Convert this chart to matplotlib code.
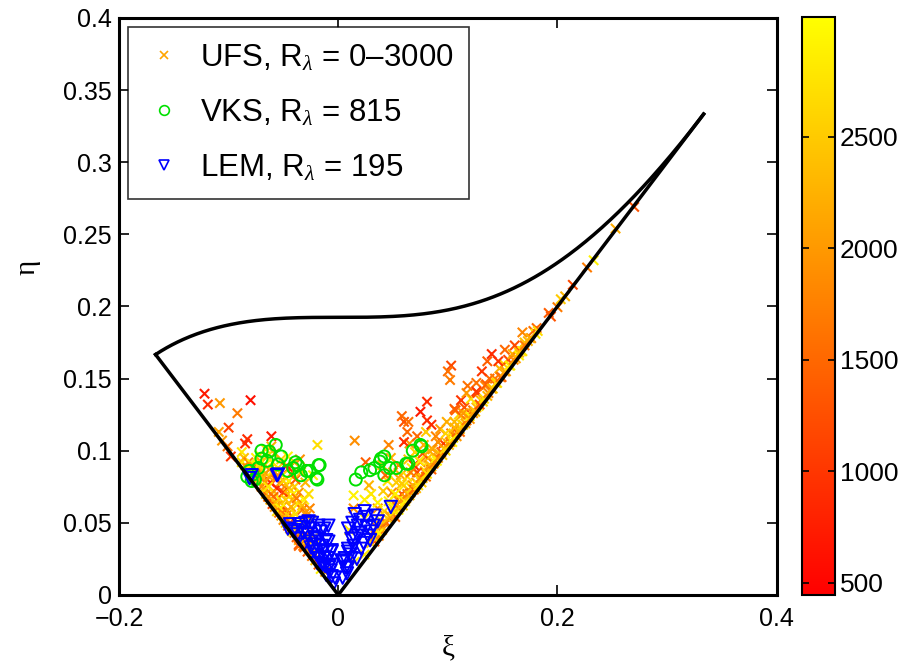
import numpy as np
import matplotlib
matplotlib.use("Agg")
import matplotlib.pyplot as plt
from matplotlib.lines import Line2D

plt.rcParams['font.family'] = ['Liberation Sans', 'DejaVu Sans']
plt.rcParams['mathtext.fontset'] = 'custom'
plt.rcParams['mathtext.rm'] = 'Liberation Sans'
plt.rcParams['mathtext.it'] = 'Liberation Serif:italic'

# UFS points (xi, eta, R_lambda) - left branch
ufs_left_xi = [-0.122, -0.119, -0.108, -0.080, -0.092, -0.100, -0.109, -0.106, -0.101, -0.083,
               -0.085, -0.061, -0.098, -0.088, -0.061, -0.045, -0.082, -0.019, 0.015, 0.025,
               -0.088, -0.085, -0.083, -0.080, -0.078, -0.076, -0.074, -0.072, -0.070, -0.068,
               -0.066, -0.064, -0.062, -0.060, -0.058, -0.056, -0.054, -0.052, -0.050, -0.048,
               -0.046, -0.044, -0.042, -0.040, -0.038, -0.036, -0.032, -0.030, -0.028,
               -0.034, -0.027, -0.036, -0.032, -0.045,
               -0.075, -0.072, -0.070, -0.067, -0.065, -0.063, -0.060, -0.058, -0.057, -0.055,
               -0.053, -0.051, -0.049, -0.048, -0.046, -0.045, -0.043, -0.042, -0.040, -0.039,
               -0.037, -0.036, -0.034, -0.033, -0.031, -0.030, -0.029, -0.027, -0.026, -0.024,
               -0.023, -0.068, -0.062, -0.059, -0.054, -0.050, -0.047, -0.044, -0.052, -0.058,
               -0.066, -0.040, -0.035, -0.046, -0.056, -0.050,
               -0.033, -0.031, -0.026, -0.024, -0.021, -0.018, -0.016, -0.012, -0.022, -0.035,
               -0.029, -0.036,
               -0.086, -0.082, -0.079, -0.077, -0.073, -0.071, -0.069, -0.067, -0.064, -0.061,
               -0.059, -0.057, -0.055, -0.053, -0.051, -0.049, -0.047, -0.044, -0.041, -0.038,
               -0.035, -0.031, -0.028, -0.025, -0.073, -0.069, -0.063, -0.060, -0.055, -0.050,
               -0.045, -0.041, -0.038, -0.033, -0.029, -0.026, -0.039, -0.043, -0.048, -0.021]
ufs_left_eta = [0.1395, 0.132, 0.133, 0.135, 0.126, 0.116, 0.113, 0.107, 0.103, 0.108,
                0.105, 0.110, 0.096, 0.099, 0.103, 0.088, 0.088, 0.104, 0.107, 0.092,
                0.092, 0.090, 0.088, 0.087, 0.085, 0.081, 0.080, 0.079, 0.075, 0.074,
                0.070, 0.068, 0.066, 0.063, 0.061, 0.058, 0.057, 0.055, 0.052, 0.050,
                0.048, 0.046, 0.044, 0.043, 0.040, 0.038, 0.034, 0.037, 0.030,
                0.038, 0.039, 0.035, 0.049, 0.057,
                0.095, 0.097, 0.092, 0.090, 0.096, 0.087, 0.092, 0.085, 0.080, 0.088,
                0.078, 0.083, 0.075, 0.089, 0.070, 0.079, 0.084, 0.066, 0.075, 0.080,
                0.063, 0.071, 0.085, 0.059, 0.066, 0.078, 0.055, 0.070, 0.060, 0.052,
                0.083, 0.083, 0.078, 0.072, 0.067, 0.062, 0.058, 0.054, 0.094, 0.098,
                0.101, 0.092, 0.094, 0.096, 0.074, 0.071,
                0.036, 0.033, 0.031, 0.027, 0.024, 0.021, 0.018, 0.016, 0.040, 0.046,
                0.0385, 0.034,
                0.095, 0.092, 0.091, 0.089, 0.087, 0.083, 0.081, 0.078, 0.075, 0.070,
                0.068, 0.064, 0.062, 0.060, 0.057, 0.054, 0.052, 0.050, 0.047, 0.045,
                0.041, 0.039, 0.035, 0.033, 0.090, 0.086, 0.082, 0.086, 0.083, 0.079,
                0.074, 0.070, 0.067, 0.062, 0.058, 0.044, 0.056, 0.061, 0.066, 0.028]
ufs_left_re = [700, 900, 2000, 600, 1700, 1100, 2100, 2000, 1600, 900,
               900, 700, 1000, 2800, 2200, 800, 1100, 2700, 1900, 1400,
               2700, 2900, 1900, 2600, 2200, 1300, 2400, 2800, 1800, 2100,
               2500, 1600, 2300, 1200, 2000, 2700, 1700, 2200, 1900, 2500,
               1500, 2100, 2800, 1800, 1400, 2300, 1600, 2900, 1300,
               1300, 2900, 1300, 2800, 1900,
               2900, 2700, 2200, 2800, 2500, 1900, 2900, 2300, 1500, 2700,
               2000, 2600, 1800, 1000, 2400, 2900, 1700, 2200, 2600, 1400,
               2800, 2000, 2500, 1600, 2900, 2300, 2100, 2700, 1800, 2500,
               2900, 2000, 900, 2400, 2900, 2200, 1200, 2700, 2600, 2100,
               2800, 2400, 1900, 2900, 800, 1100,
               2100, 1500, 2800, 1700, 2400, 1400, 2900, 2000, 2600, 2900,
               2900, 1500,
               2400, 1800, 2900, 2100, 1600, 2600, 2300, 1900, 2800, 2000,
               1500, 2500, 2200, 2900, 1700, 2400, 2000, 1300, 2700, 2200,
               1800, 2600, 1600, 2300, 2900, 2500, 2100, 2800, 1900, 2600,
               2300, 2900, 1700, 2400, 2000, 1400, 2700, 2200, 2500, 1900]

# UFS points - right branch
ufs_right_xi = [0.014, 0.010, 0.014, 0.024, 0.015, 0.024, 0.033, 0.037, 0.024, 0.036,
                0.032, 0.035, 0.038, 0.040, 0.042, 0.044, 0.046, 0.047, 0.049, 0.050,
                0.052, 0.053, 0.054, 0.055, 0.057, 0.058, 0.059, 0.060, 0.045, 0.050,
                0.055, 0.041, 0.036, 0.040, 0.048, 0.043, 0.030, 0.028,
                0.062, 0.063, 0.064, 0.066, 0.067, 0.068, 0.070, 0.071, 0.072, 0.074,
                0.075, 0.076, 0.078, 0.079, 0.080, 0.082, 0.083, 0.085, 0.086, 0.088,
                0.089, 0.090, 0.092, 0.093, 0.095, 0.096, 0.098, 0.099, 0.065, 0.072,
                0.080, 0.085, 0.077, 0.069,
                0.101, 0.103, 0.104, 0.106, 0.108, 0.110, 0.111, 0.113, 0.115, 0.116,
                0.118, 0.120, 0.121, 0.123, 0.125, 0.127, 0.128, 0.130, 0.132, 0.134,
                0.136, 0.138, 0.112, 0.117, 0.107, 0.126, 0.131,
                0.141, 0.143, 0.145, 0.147, 0.149, 0.151, 0.153, 0.155, 0.157, 0.159,
                0.146, 0.152, 0.162, 0.164, 0.167, 0.170, 0.176, 0.178, 0.180,
                0.103, 0.100, 0.102, 0.136, 0.081, 0.075, 0.081, 0.060, 0.063, 0.060,
                0.058, 0.064, 0.046, 0.118, 0.126, 0.135, 0.106,
                0.270, 0.253, 0.233, 0.227, 0.214, 0.207, 0.203, 0.200, 0.192, 0.194,
                0.181, 0.182, 0.168, 0.173, 0.161, 0.140, 0.168, 0.165,
                0.030, 0.034, 0.037, 0.039, 0.043, 0.045, 0.048, 0.051, 0.053, 0.056,
                0.058, 0.061, 0.063, 0.065, 0.067, 0.069, 0.071, 0.073, 0.075, 0.077,
                0.079, 0.081, 0.083, 0.085, 0.087, 0.089, 0.091, 0.094, 0.097, 0.100,
                0.102, 0.105, 0.108, 0.111, 0.114, 0.117, 0.120, 0.123, 0.126, 0.129,
                0.133, 0.137, 0.140, 0.144, 0.148, 0.152, 0.156, 0.160, 0.165, 0.170,
                0.175, 0.052, 0.058, 0.066, 0.074, 0.083, 0.091, 0.098, 0.106, 0.114]
ufs_right_eta = [0.069, 0.045, 0.060, 0.053, 0.023, 0.028, 0.037, 0.041, 0.066, 0.060,
                 0.040, 0.047, 0.052, 0.045, 0.058, 0.050, 0.065, 0.055, 0.071, 0.060,
                 0.054, 0.078, 0.066, 0.059, 0.083, 0.070, 0.062, 0.076, 0.079, 0.085,
                 0.090, 0.072, 0.064, 0.090, 0.095, 0.083, 0.070, 0.076,
                 0.067, 0.082, 0.094, 0.071, 0.088, 0.076, 0.099, 0.074, 0.085, 0.080,
                 0.092, 0.078, 0.104, 0.086, 0.082, 0.095, 0.088, 0.087, 0.101, 0.092,
                 0.110, 0.093, 0.098, 0.115, 0.097, 0.105, 0.100, 0.120, 0.105, 0.110,
                 0.113, 0.118, 0.098, 0.090,
                 0.104, 0.112, 0.106, 0.120, 0.110, 0.125, 0.113, 0.118, 0.130, 0.119,
                 0.125, 0.122, 0.136, 0.128, 0.127, 0.140, 0.131, 0.135, 0.134, 0.145,
                 0.138, 0.150, 0.135, 0.140, 0.128, 0.147, 0.155,
                 0.143, 0.150, 0.147, 0.157, 0.151, 0.160, 0.155, 0.163, 0.159, 0.167,
                 0.162, 0.170, 0.164, 0.170, 0.169, 0.175, 0.178, 0.183, 0.181,
                 0.159, 0.155, 0.149, 0.162, 0.134, 0.127, 0.121, 0.120, 0.113, 0.106,
                 0.124, 0.120, 0.104, 0.145, 0.141, 0.146, 0.129,
                 0.269, 0.254, 0.232, 0.227, 0.215, 0.207, 0.205, 0.1995, 0.1955, 0.193,
                 0.185, 0.183, 0.182, 0.176, 0.173, 0.167, 0.169, 0.166,
                 0.036, 0.041, 0.043, 0.048, 0.050, 0.053, 0.054, 0.058, 0.062, 0.061,
                 0.066, 0.065, 0.070, 0.069, 0.074, 0.073, 0.078, 0.076, 0.081, 0.081,
                 0.085, 0.084, 0.090, 0.089, 0.091, 0.095, 0.095, 0.099, 0.101, 0.105,
                 0.106, 0.109, 0.113, 0.115, 0.118, 0.121, 0.124, 0.126, 0.130, 0.132,
                 0.136, 0.140, 0.143, 0.147, 0.151, 0.155, 0.159, 0.163, 0.168, 0.173,
                 0.178, 0.070, 0.077, 0.085, 0.093, 0.100, 0.106, 0.112, 0.116, 0.126]
ufs_right_re = [2900, 2800, 1900, 2800, 2900, 2800, 1300, 1800, 2900, 1900,
                2400, 1700, 2800, 2100, 2600, 1300, 2900, 2300, 1900, 2700,
                1600, 2500, 2000, 2900, 2200, 1400, 2600, 2800, 2700, 2100,
                1800, 2500, 2900, 2400, 2200, 1500, 2800, 2300,
                2100, 2700, 2400, 1700, 2900, 2000, 2600, 2300, 1200, 2800,
                1900, 2500, 2200, 2900, 1600, 2400, 2700, 1400, 2100, 2600,
                1800, 2900, 2300, 2000, 2500, 1100, 2700, 2200, 2000, 1500,
                2500, 900, 1300, 800,
                2400, 1700, 2900, 2300, 2000, 2600, 1500, 2800, 1300, 2200,
                2500, 1900, 2700, 1600, 2400, 1200, 2900, 2100, 2600, 1800,
                2300, 1500, 1000, 2000, 1400, 1600, 1000,
                2500, 1700, 2800, 2200, 1400, 2600, 2000, 1200, 2900, 2300,
                1000, 1500, 2100, 1800, 2700, 2400, 1900, 1600, 2800,
                1200, 1600, 1700, 1400, 900, 700, 900, 1300, 1500, 900,
                1500, 1600, 1800, 1600, 1000, 1400, 1400,
                1300, 2200, 2900, 1700, 1200, 2300, 2500, 1700, 1400, 1300,
                1500, 2700, 1800, 2300, 1200, 900, 2800, 2900,
                2600, 1900, 2900, 2300, 1700, 2500, 2100, 2800, 1600, 2400,
                2000, 2900, 1800, 2300, 2600, 1500, 2200, 2800, 1900, 2500,
                1400, 2700, 2100, 2400, 1800, 2900, 2000, 1600, 2600, 2300,
                1900, 2800, 1500, 2200, 2500, 1700, 2900, 2000, 2400, 1300,
                2700, 1800, 2300, 2600, 1600, 2100, 2800, 1900, 2400, 1700,
                2200, 2900, 2500, 1700, 2800, 2200, 1900, 2600, 2300, 2000]

# VKS points, R_lambda = 815
vks_xi = [-0.057, -0.070, -0.039, -0.017, -0.026, -0.020, -0.065, -0.055, -0.078, -0.079,
          -0.081, -0.041, -0.034, -0.070, -0.063, -0.052, -0.046, -0.037, -0.073, -0.018,
          -0.019, -0.029, -0.083, -0.076,
          0.016, 0.021, 0.029, 0.033, 0.039, 0.038, 0.042, 0.047, 0.062, 0.068,
          0.076, 0.053, 0.075, 0.042, 0.064]
vks_eta = [0.104, 0.100, 0.092, 0.090, 0.086, 0.081, 0.093, 0.0905, 0.0835, 0.079,
           0.086, 0.088, 0.083, 0.0945, 0.0995, 0.096, 0.086, 0.090, 0.088, 0.090,
           0.080, 0.086, 0.082, 0.080,
           0.080, 0.085, 0.0865, 0.088, 0.0945, 0.0925, 0.083, 0.088, 0.091, 0.100,
           0.103, 0.088, 0.104, 0.096, 0.091]

# LEM points, R_lambda = 195
lem_xi = [-0.055, -0.079, -0.018, -0.009, -0.025, -0.018, -0.011, -0.014, -0.009, -0.008,
          -0.011, -0.006, -0.032, -0.036, -0.025, -0.022, -0.017, -0.014, -0.041, -0.046,
          -0.027, -0.036, -0.056, -0.081, -0.013, -0.009, -0.006, -0.009, -0.015, -0.005,
          -0.006,
          -0.044, -0.040, -0.037, -0.034, -0.031, -0.028, -0.025, -0.022, -0.020, -0.016,
          -0.013, -0.010, -0.007, -0.004, -0.030, -0.024, -0.020, -0.015, -0.012, -0.019,
          -0.003,
          0.003, 0.007, 0.009, 0.009, 0.018, 0.024, 0.015, 0.005, 0.009, 0.021, 0.027,
          0.012, 0.018, 0.030, 0.006, 0.012, 0.036, 0.033, 0.009, 0.048,
          0.004, 0.008, 0.011, 0.014, 0.017, 0.020, 0.023, 0.026, 0.029, 0.032,
          0.015, 0.020, 0.026, 0.013]
lem_eta = [0.0835, 0.083, 0.048, 0.048, 0.046, 0.039, 0.038, 0.031, 0.0255, 0.020,
           0.014, 0.013, 0.043, 0.039, 0.037, 0.030, 0.0255, 0.021, 0.044, 0.046,
           0.051, 0.049, 0.083, 0.081, 0.046, 0.037, 0.031, 0.019, 0.021, 0.021,
           0.030,
           0.049, 0.045, 0.042, 0.047, 0.035, 0.042, 0.033, 0.040, 0.035, 0.044,
           0.026, 0.030, 0.017, 0.008, 0.050, 0.050, 0.028, 0.034, 0.020, 0.022,
           0.012,
           0.024, 0.019, 0.032, 0.046, 0.048, 0.058, 0.039, 0.023, 0.019, 0.032, 0.041,
           0.039, 0.041, 0.044, 0.0255, 0.0255, 0.051, 0.055, 0.030, 0.061,
           0.012, 0.015, 0.028, 0.034, 0.025, 0.052, 0.036, 0.047, 0.038, 0.048,
           0.056, 0.043, 0.054, 0.050]

re_min, re_max = 445, 3040

fig = plt.figure(figsize=(9.17, 6.71), dpi=100)
ax = fig.add_axes([0.1298, 0.1133, 0.7172, 0.860])
cax = fig.add_axes([0.8744, 0.1133, 0.0363, 0.862])

# Lumley triangle boundaries
xi_left = np.linspace(-1/6, 0, 50)
xi_right = np.linspace(0, 1/3, 50)
xi_top = np.linspace(-1/6, 1/3, 400)
ax.plot(xi_left, -xi_left, 'k-', lw=2.5, zorder=4)
ax.plot(xi_right, xi_right, 'k-', lw=2.5, zorder=4)
ax.plot(xi_top, np.sqrt(1/27 + 2 * xi_top**3), 'k-', lw=2.5, zorder=4)

ufs_xi = ufs_left_xi + ufs_right_xi
ufs_eta = ufs_left_eta + ufs_right_eta
ufs_re = ufs_left_re + ufs_right_re
sc = ax.scatter(ufs_xi, ufs_eta, c=ufs_re, cmap='autumn', vmin=re_min, vmax=re_max,
                marker='x', s=45, linewidths=1.5, zorder=3)
ax.scatter(vks_xi, vks_eta, facecolors='none', edgecolors='#00e000', marker='o',
           s=75, linewidths=1.4, zorder=3)
ax.scatter(lem_xi, lem_eta, facecolors='none', edgecolors='#0000ff', marker='v',
           s=80, linewidths=1.4, zorder=3)

ax.set_xlim(-0.2, 0.4)
ax.set_ylim(0, 0.4)
ax.set_xticks([-0.2, 0, 0.2, 0.4])
ax.set_xticklabels(['\u22120.2', '0', '0.2', '0.4'])
ax.set_yticks(np.arange(0, 0.401, 0.05))
ax.set_yticklabels(['0', '0.05', '0.1', '0.15', '0.2', '0.25', '0.3', '0.35', '0.4'])
ax.tick_params(direction='in', length=7, width=1.2, labelsize=18, top=True, right=True)
ax.tick_params(axis='x', pad=9)
ax.tick_params(axis='y', pad=5)
for sp in ax.spines.values():
    sp.set_linewidth(2.2)
ax.set_xlabel('\u03be', fontsize=21, family='Liberation Serif')
ax.set_ylabel('\u03b7', fontsize=21, family='Liberation Serif')
ax.xaxis.set_label_coords(0.5, -0.07)
ax.yaxis.set_label_coords(-0.12, 0.567)

handles = [
    Line2D([], [], ls='none', marker='x', color='#ffa500', markersize=6, mew=1.2),
    Line2D([], [], ls='none', marker='o', mfc='none', mec='#00e000', markersize=7, mew=1.2),
    Line2D([], [], ls='none', marker='v', mfc='none', mec='#0000ff', markersize=7, mew=1.2),
]
labels = ['UFS, R$_\\lambda$ = 0\u20133000', 'VKS, R$_\\lambda$ = 815', 'LEM, R$_\\lambda$ = 195']
leg = ax.legend(handles, labels, loc='upper left', fontsize=22.5, frameon=True, fancybox=False,
                edgecolor='black', borderaxespad=0.3, handletextpad=0.5, labelspacing=0.78,
                borderpad=0.5, handlelength=1.3)
leg.get_frame().set_linewidth(1.2)

cb = fig.colorbar(sc, cax=cax, ticks=[500, 1000, 1500, 2000, 2500])
cb.ax.tick_params(direction='in', length=5, width=1.2, labelsize=19, left=True, right=True)
cb.outline.set_linewidth(1.5)

fig.savefig('out.png', dpi=100)
